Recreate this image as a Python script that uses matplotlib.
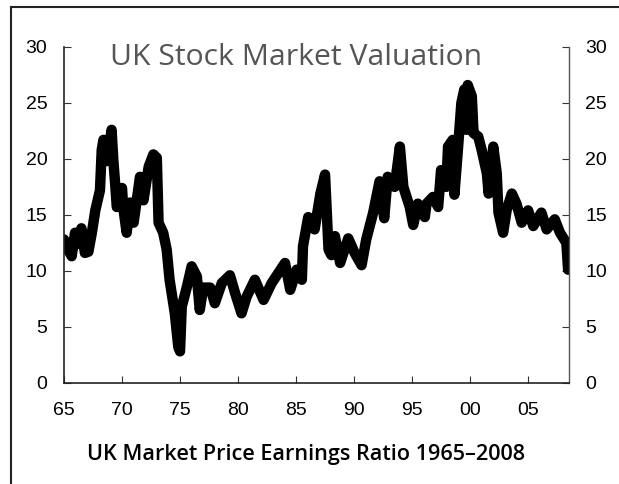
import numpy as np
import matplotlib.pyplot as plt
from matplotlib.lines import Line2D

# 数据：英国市场市盈率 1965-2008
years = [1965.0, 1965.3, 1965.66, 1965.95, 1966.2, 1966.5, 1966.8, 1967.1, 1967.4,
         1967.7, 1968.1, 1968.25, 1968.4, 1968.7, 1969.1, 1969.25, 1969.4, 1969.55,
         1970.0, 1970.1, 1970.4, 1970.7, 1971.0, 1971.55, 1971.85, 1972.3, 1972.7,
         1973.0, 1973.15, 1973.55, 1973.85, 1974.1, 1974.55, 1974.85, 1975.0,
         1975.15, 1975.6, 1976.0, 1976.45, 1976.7, 1977.0, 1977.6, 1978.0, 1978.6,
         1979.3, 1979.75, 1980.3, 1980.75, 1981.45, 1982.2, 1982.9, 1984.05, 1984.5,
         1985.05, 1985.5, 1985.6, 1986.05, 1986.6, 1987.1, 1987.5, 1987.8, 1988.05,
         1988.35, 1988.8, 1989.5, 1990.05, 1990.65, 1991.05, 1991.65, 1992.2, 1992.6,
         1992.9, 1993.5, 1993.95, 1994.25, 1994.8, 1995.1, 1995.5, 1996.1, 1996.25,
         1996.8, 1997.25, 1997.5, 1997.95, 1998.1, 1998.5, 1998.65, 1998.95, 1999.25,
         1999.5, 1999.7, 1999.8, 2000.15, 2000.3, 2000.7, 2001.0, 2001.45, 2001.6,
         2002.0, 2002.3, 2002.45, 2002.85, 2003.15, 2003.6, 2004.0, 2004.45, 2005.0,
         2005.45, 2006.15, 2006.6, 2007.3, 2007.75, 2008.3, 2008.45]
pe = [12.8, 12.0, 11.3, 13.4, 12.4, 13.8, 11.6, 11.7, 13.4,
      15.4, 17.2, 20.8, 21.7, 19.8, 22.6, 19.9, 17.9, 15.7,
      17.4, 15.7, 13.4, 16.1, 14.3, 18.4, 16.3, 19.3, 20.4,
      20.1, 14.3, 13.4, 11.9, 9.2, 6.2, 3.2, 2.8,
      6.8, 8.6, 10.4, 9.5, 6.5, 8.5, 8.5, 7.1, 8.9,
      9.6, 8.0, 6.2, 7.7, 9.2, 7.4, 8.9, 10.7, 8.3,
      10.1, 9.2, 12.2, 14.8, 13.7, 16.9, 18.6, 11.9, 11.4,
      13.1, 10.7, 12.9, 11.6, 10.5, 12.8, 15.2, 18.0, 14.7,
      18.4, 17.5, 21.1, 17.5, 15.7, 14.1, 16.0, 14.8, 16.0,
      16.6, 15.7, 19.0, 17.5, 21.1, 21.7, 16.8, 20.8, 25.0,
      26.2, 22.6, 26.6, 25.6, 22.3, 22.0, 20.8, 18.7, 16.9,
      21.1, 18.7, 15.2, 13.4, 15.4, 16.9, 16.0, 14.3, 15.4,
      14.0, 15.2, 13.7, 14.6, 13.4, 12.5, 10.1]

x_ticks = [1965, 1970, 1975, 1980, 1985, 1990, 1995, 2000, 2005]
x_labels = ['65', '70', '75', '80', '85', '90', '95', '00', '05']
y_ticks = [0, 5, 10, 15, 20, 25, 30]

fig = plt.figure(figsize=(6.19, 4.84), dpi=100)
ax = fig.add_axes([0.1034, 0.2093, 0.8153, 0.6936])

ax.plot(years, pe, color='black', linewidth=7.5, solid_joinstyle='round',
        solid_capstyle='round')

ax.set_xlim(1965, 2008.5)
ax.set_ylim(0, 30)

ax.set_xticks(x_ticks)
ax.set_xticklabels(x_labels, family='Liberation Sans', fontsize=14)
ax.set_yticks(y_ticks)
ax.set_yticklabels([str(v) for v in y_ticks], family='Liberation Sans', fontsize=14)
ax.tick_params(axis='both', direction='in', length=5, width=0.8, color='#333333')
ax.tick_params(axis='y', pad=12, right=True, labelright=True)
ax.tick_params(axis='x', pad=14)

ax.spines['top'].set_visible(False)
for s in ['left', 'bottom']:
    ax.spines[s].set_color('#222222')
    ax.spines[s].set_linewidth(1.2)
ax.spines['right'].set_color('#555555')
ax.spines['right'].set_linewidth(1.0)

# 标题（图内灰色）
fig.text(0.478, (484 - 65) / 484, 'UK Stock Market Valuation', ha='center',
         va='baseline', fontsize=21.7, color='#555555', family='Open Sans')

# 底部说明文字
fig.text(0.495, (484 - 460) / 484, 'UK Market Price Earnings Ratio 1965\u20132008',
         ha='center', va='baseline', fontsize=15.6, color='black',
         family='Open Sans', fontweight='semibold')

# 外框线（左边和上边）
fig.add_artist(Line2D([11 / 619, 1], [1 - 7 / 484, 1 - 7 / 484],
                      transform=fig.transFigure, color='#222222', linewidth=1.5))
fig.add_artist(Line2D([11 / 619, 11 / 619], [0, 1 - 7 / 484],
                      transform=fig.transFigure, color='#222222', linewidth=1.5))

fig.savefig('out.png', dpi=100)
